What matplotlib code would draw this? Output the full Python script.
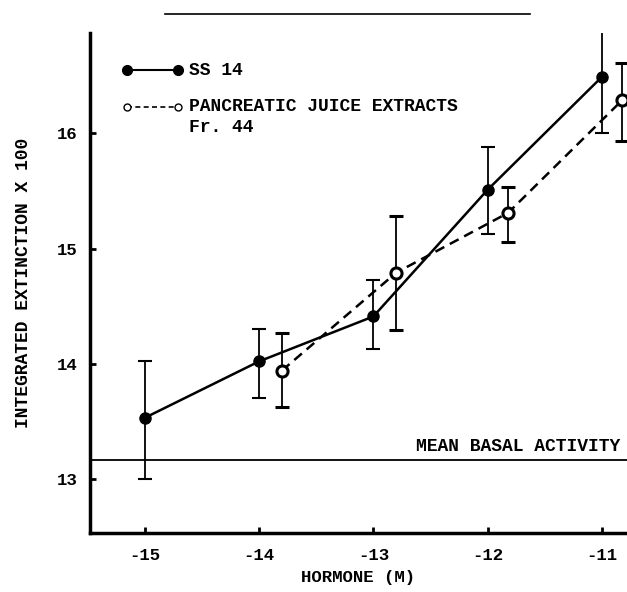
import matplotlib.pyplot as plt
import numpy as np

plt.rcParams['font.family'] = ['Liberation Mono', 'DejaVu Sans Mono']
plt.rcParams['axes.unicode_minus'] = False

# SS 14 (filled)
x_ss = np.array([-15, -14, -13, -12, -11])
y_ss = np.array([13.53, 14.02, 14.41, 15.51, 16.49])
err_lo_ss = np.array([0.53, 0.32, 0.28, 0.38, 0.49])
err_hi_ss = np.array([0.49, 0.28, 0.32, 0.37, 0.40])

# Pancreatic juice extracts Fr. 44 (open)
x_pj = np.array([-13.8, -12.8, -11.82, -10.82])
y_pj = np.array([13.94, 14.79, 15.31, 16.29])
err_lo_pj = np.array([0.32, 0.50, 0.25, 0.36])
err_hi_pj = np.array([0.33, 0.49, 0.22, 0.32])

basal = 13.16

fig = plt.figure(figsize=(6.27, 5.92), dpi=100)
ax = fig.add_axes([0.1435, 0.0997, 0.8565, 0.8443])

ax.errorbar(x_ss, y_ss, yerr=[err_lo_ss, err_hi_ss], fmt='o-', color='black',
            mfc='black', ms=8, lw=1.8, elinewidth=1.3, capsize=5, capthick=1.5)
ax.errorbar(x_pj, y_pj, yerr=[err_lo_pj, err_hi_pj], fmt='o--', color='black',
            mfc='white', mew=2.2, ms=8, lw=1.8, elinewidth=1.3, capsize=5, capthick=1.5,
            dashes=(4, 2.5))

ax.axhline(basal, color='black', lw=1.3)
ax.text(-10.84, basal + 0.05, "MEAN BASAL ACTIVITY", ha='right', va='bottom',
        fontsize=13, fontweight='bold')

# legend drawn by hand
ax.plot([-15.16, -14.71], [16.55, 16.55], 'o-', color='black', ms=7, lw=1.5)
ax.text(-14.61, 16.55, "SS 14", va='center', fontsize=13, fontweight='bold')
ax.plot([-15.16, -14.71], [16.23, 16.23], 'o--', color='black', mfc='white',
        ms=5, lw=1.2, dashes=(3, 2))
ax.text(-14.61, 16.23, "PANCREATIC JUICE EXTRACTS", va='center', fontsize=13, fontweight='bold')
ax.text(-14.61, 16.05, "Fr. 44", va='center', fontsize=13, fontweight='bold')

ax.set_xlim(-15.48, -10.78)
ax.set_ylim(12.53, 16.87)
ax.set_xticks([-15, -14, -13, -12, -11])
ax.set_yticks([13, 14, 15, 16])
ax.tick_params(direction='in', length=4, width=2, labelsize=12.5)
for lab in ax.get_xticklabels() + ax.get_yticklabels():
    lab.set_fontweight('bold')
ax.tick_params(axis='x', pad=11)
ax.tick_params(axis='y', pad=9)

ax.spines['top'].set_visible(False)
ax.spines['right'].set_visible(False)
ax.spines['left'].set_linewidth(2.5)
ax.spines['bottom'].set_linewidth(2.5)

ax.set_xlabel("HORMONE (M)", fontsize=12.5, fontweight='bold', labelpad=5)
ax.set_ylabel("INTEGRATED EXTINCTION X 100", fontsize=13, fontweight='bold', labelpad=18)

# stray rule at top of the page
fig.add_artist(plt.Line2D([165 / 627, 530 / 627], [1 - 14 / 592, 1 - 14 / 592],
                          color='black', lw=1.2))

fig.savefig("out.png", dpi=100)
